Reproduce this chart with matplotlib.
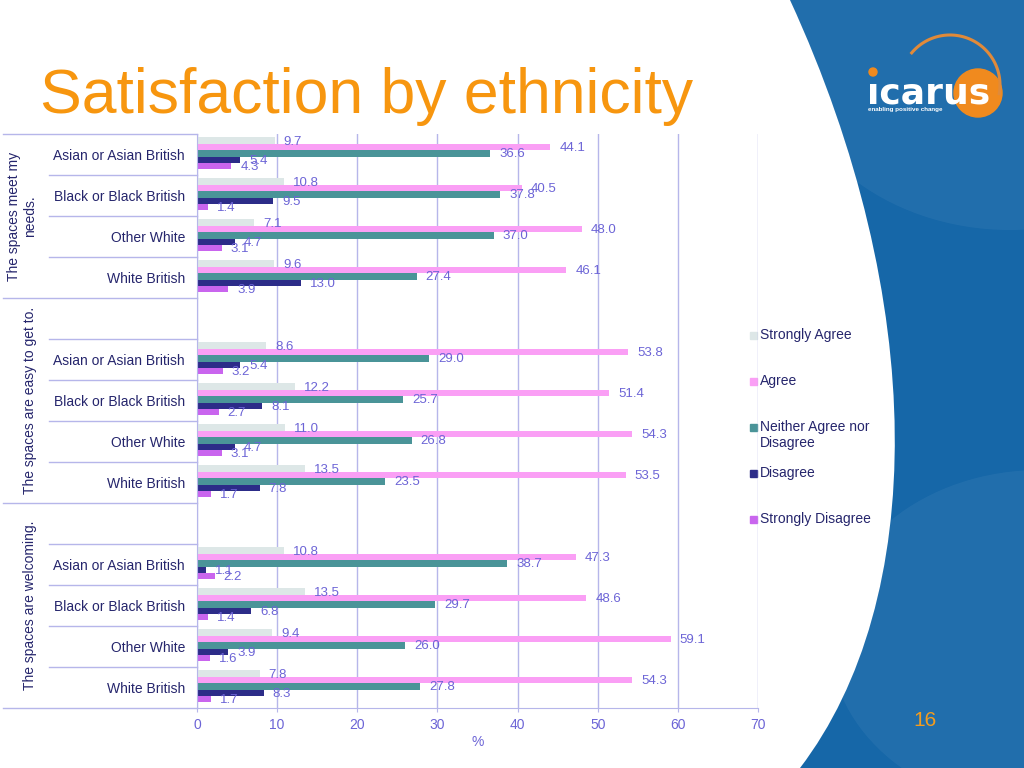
import numpy as np
import matplotlib
matplotlib.use('Agg')
from matplotlib import pyplot as plt
from matplotlib.patches import PathPatch, Circle, Rectangle, Ellipse
from matplotlib.path import Path

plt.rcParams['font.family'] = ['Liberation Sans', 'DejaVu Sans']

questions = ['The spaces meet my\nneeds.', 'The spaces are easy to get to.', 'The spaces are welcoming.']
ethnicities = ['Asian or Asian British', 'Black or Black British', 'Other White', 'White British']
series = ['Strongly Agree', 'Agree', 'Neither Agree nor\nDisagree', 'Disagree', 'Strongly Disagree']

# values in question order, ethnicities within each question
strongly_agree = [9.7, 10.8, 7.1, 9.6, 8.6, 12.2, 11.0, 13.5, 10.8, 13.5, 9.4, 7.8]
agree = [44.1, 40.5, 48.0, 46.1, 53.8, 51.4, 54.3, 53.5, 47.3, 48.6, 59.1, 54.3]
neither = [36.6, 37.8, 37.0, 27.4, 29.0, 25.7, 26.8, 23.5, 38.7, 29.7, 26.0, 27.8]
disagree = [5.4, 9.5, 4.7, 13.0, 5.4, 8.1, 4.7, 7.8, 1.1, 6.8, 3.9, 8.3]
strongly_disagree = [4.3, 1.4, 3.1, 3.9, 3.2, 2.7, 3.1, 1.7, 2.2, 1.4, 1.6, 1.7]

colors = ['#dde7e7', '#fa9ff5', '#4a9498', '#2c2c88', '#c965ee']
navy = '#25256c'
grid_c = '#b6b6ea'
label_c = '#6c64d6'
orange = '#f7960f'


def main():
    fig = plt.figure(figsize=(10.24, 7.68), dpi=100)

    # background / decoration in pixel coordinates
    bg = fig.add_axes([0, 0, 1, 1], zorder=0)
    bg.set_xlim(0, 1024)
    bg.set_ylim(768, 0)
    bg.axis('off')

    verts = [(790, 0), (928, 300), (928, 600), (800, 768), (1024, 768), (1024, 0), (790, 0)]
    codes = [Path.MOVETO, Path.CURVE4, Path.CURVE4, Path.CURVE4, Path.LINETO, Path.LINETO, Path.CLOSEPOLY]
    blue = PathPatch(Path(verts, codes), facecolor='#1667a8', edgecolor='none')
    bg.add_patch(blue)
    for cx, cy, w, hh in [(1010, 40, 460, 380), (1040, 640, 420, 340)]:
        e = Ellipse((cx, cy), w, hh, facecolor='white', alpha=0.05, edgecolor='none')
        bg.add_patch(e)
        e.set_clip_path(blue)

    # logo
    th = np.radians(np.linspace(140, -10, 80))
    bg.plot(950 + 50 * np.cos(th), 85 - 50 * np.sin(th), color='#e08a3a', lw=2.2)
    bg.add_patch(Circle((978, 93), 24, color='#f08a1e'))
    bg.text(867, 103, '\u0131carus', fontsize=26, weight='bold', color='white',
            family='DejaVu Sans', va='baseline', ha='left')
    bg.add_patch(Circle((873, 72), 4, color='#f08a1e'))
    bg.text(868, 111, 'enabling positive change', fontsize=4.5, weight='bold',
            color='white', va='baseline', ha='left')

    bg.text(925, 720, '16', ha='center', va='center', fontsize=15, color='#f39c1e')
    bg.text(40, 113, 'Satisfaction by ethnicity', fontsize=45, color=orange,
            va='baseline', ha='left')

    # chart
    ax = fig.add_axes([197 / 1024, 60 / 768, 561 / 1024, 574 / 768], zorder=1)
    ax.patch.set_alpha(0)

    rows = []
    group_spans = []
    r = 0
    for g in range(len(questions)):
        start = r
        if g > 0:
            r += 1
        for e in ethnicities:
            rows.append(r)
            r += 1
        group_spans.append((start, r - 1))
    rows = np.array(rows)

    values = [strongly_agree, agree, neither, disagree, strongly_disagree]
    h = 0.156
    for i, (vals, name, c) in enumerate(zip(values, series, colors)):
        y = rows + (i - 2) * h - 0.025
        ax.barh(y, vals, height=h, color=c, label=name, zorder=2)
        for yy, v in zip(y, vals):
            ax.annotate(f'{v:.1f}', (v, yy), xytext=(6.5, -0.7), textcoords='offset points',
                        va='center', ha='left', fontsize=9.5, color=label_c, zorder=3)

    ax.set_xlim(0, 70)
    ax.set_ylim(r - 0.5, -0.5)
    ax.set_xticks(range(0, 71, 10))
    ax.set_yticks(rows)
    ax.set_yticklabels(ethnicities * len(questions))
    ax.tick_params(axis='y', length=0, pad=8.6, labelsize=10, labelcolor=navy)
    ax.tick_params(axis='x', length=3, color=grid_c, labelcolor=label_c, labelsize=10, pad=4)
    ax.set_xlabel('%', color=label_c, fontsize=10, labelpad=2)
    ax.xaxis.grid(True, color=grid_c, lw=1)
    ax.set_axisbelow(True)
    for s in ['top', 'right']:
        ax.spines[s].set_visible(False)
    for s in ['left', 'bottom']:
        ax.spines[s].set_color(grid_c)

    # table lines on the left
    trans = ax.get_yaxis_transform()
    x_long = (3 - 197) / 561
    x_short = (49 - 197) / 561
    group_edges = [-0.5] + [end + 0.5 for _, end in group_spans]
    for b in np.arange(-0.5, r, 1.0):
        x0 = x_long if any(abs(b - ge) < 1e-6 for ge in group_edges) else x_short
        ax.plot([x0, 0], [b, b], transform=trans, color=grid_c, lw=1, clip_on=False)
    for q, (start, end) in zip(questions, group_spans):
        ax.text((37 - 197) / 561, (start + end) / 2, q, rotation=90, ha='right', va='center',
                transform=trans, fontsize=10, color=navy, multialignment='center')

    # legend
    for i, (name, c) in enumerate(zip(series, colors)):
        y = 335 + 46 * i
        bg.add_patch(Rectangle((750, y - 3.5), 7, 7, color=c, zorder=3))
        for j, line in enumerate(name.split('\n')):
            bg.text(760, y + 16 * j, line, va='center', ha='left', fontsize=10, color=navy)

    fig.savefig('out.png', dpi=100)


if __name__ == '__main__':
    main()
